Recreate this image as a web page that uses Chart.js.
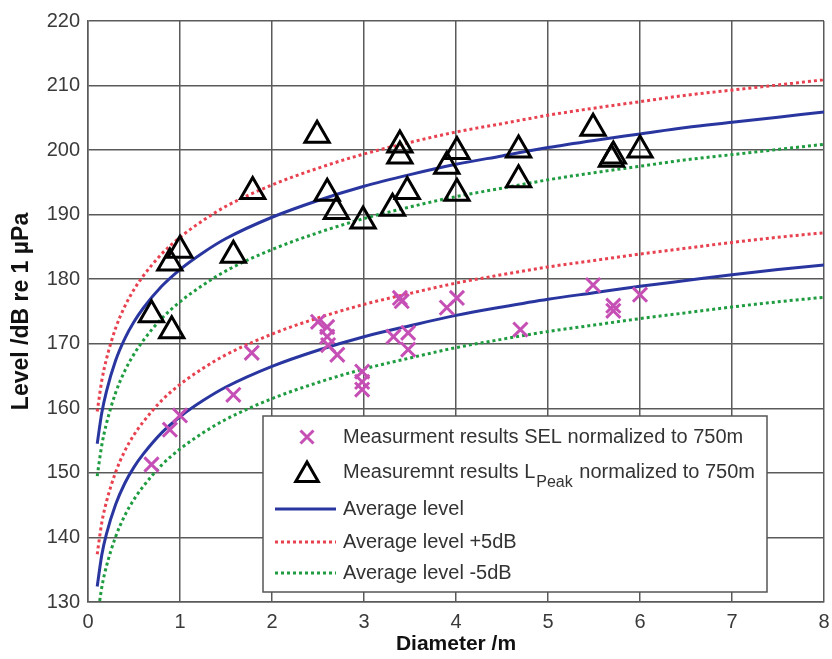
<!DOCTYPE html>
<html><head><meta charset="utf-8">
<script src="https://cdn.jsdelivr.net/npm/chart.js@4/dist/chart.umd.min.js"></script>
<style>html,body{margin:0;padding:0;background:#fff;}canvas{display:block;}</style>
</head><body>
<canvas id="c" width="832" height="659"></canvas>
<script>
// Diameter grid for the fitted curves (m)
const diameterGrid = [0.1,0.15,0.2,0.3,0.4,0.5,0.6,0.8,1,1.25,1.5,2,2.5,3,3.5,4,4.5,5,5.5,6,6.5,7,7.5,8];
// L_Peak average curves (dB re 1 µPa)
const peakAvg      = [154.5,159.3,162.6,167.4,170.8,173.4,175.5,178.9,181.5,184.1,186.3,189.6,192.2,194.4,196.2,197.8,199.1,200.4,201.5,202.5,203.5,204.3,205.1,205.9];
const peakAvgPlus5 = [159.5,164.3,167.6,172.4,175.8,178.4,180.5,183.9,186.5,189.1,191.3,194.6,197.2,199.4,201.2,202.8,204.1,205.4,206.5,207.5,208.5,209.3,210.1,210.9];
const peakAvgMinus5= [149.5,154.3,157.6,162.4,165.8,168.4,170.5,173.9,176.5,179.1,181.3,184.6,187.2,189.4,191.2,192.8,194.1,195.4,196.5,197.5,198.5,199.3,200.1,200.9];
// SEL average curves
const selAvg       = [132.4,137.3,140.5,145.1,148.4,150.9,152.9,156.2,158.7,161.2,163.3,166.5,169.0,171.1,172.8,174.4,175.7,176.9,177.9,178.9,179.8,180.7,181.5,182.2];
const selAvgPlus5  = [137.4,142.3,145.5,150.1,153.4,155.9,157.9,161.2,163.7,166.2,168.3,171.5,174.0,176.1,177.8,179.4,180.7,181.9,182.9,183.9,184.8,185.7,186.5,187.2];
const selAvgMinus5 = [127.4,132.3,135.5,140.1,143.4,145.9,147.9,151.2,153.7,156.2,158.3,161.5,164.0,166.1,167.8,169.4,170.7,171.9,172.9,173.9,174.8,175.7,176.5,177.2];
// Measurements: SEL normalized to 750 m
const selDiameter = [0.69,0.89,1.0,1.58,1.78,2.5,2.6,2.6,2.61,2.71,2.98,2.98,2.98,3.39,3.41,3.32,3.48,3.48,3.9,4.01,4.70,5.49,5.71,5.71,6.0];
const selLevel    = [151.3,156.7,158.9,162.1,168.6,173.4,172.6,171.1,169.8,168.3,165.7,164.1,162.9,177.1,176.6,171.1,171.7,169.1,175.6,177.1,172.2,179.1,175.9,175.1,177.6];
// Measurements: L_Peak normalized to 750 m
const peakDiameter = [0.69,0.91,0.89,1.0,1.58,1.79,2.49,2.60,2.70,2.99,3.31,3.47,3.39,3.39,3.90,4.01,4.01,4.68,4.68,5.49,5.69,5.71,6.0];
const peakLevel    = [174.5,172.0,182.5,184.5,183.7,193.6,202.3,193.3,190.5,189.0,191.0,193.6,200.8,199.1,197.5,199.8,193.3,200.0,195.4,203.4,198.6,199.1,200.0];
// Axis ticks
const xTicks = [0,1,2,3,4,5,6,7,8];
const yTicks = [130,140,150,160,170,180,190,200,210,220];

const legendLabels = {
  sel: 'Measurment results SEL normalized to 750m',
  peakA: 'Measuremnt results L', peakSub: 'Peak', peakB: ' normalized to 750m',
  avg: 'Average level', plus: 'Average level +5dB', minus: 'Average level -5dB'
};

const FONT = "'Liberation Sans', Arial, Helvetica, sans-serif";
const BLUE = '#2a36a0', RED = '#e8414f', GREEN = '#1f9c40', MAG = '#c64fb6';

function pts(xs, ys){ return xs.map((x,i)=>({x:x, y:ys[i]})); }

const lineDs = (label, ys, color, dashed) => ({
  label, data: pts(diameterGrid, ys), showLine: true, borderColor: color,
  borderWidth: 3, borderDash: dashed ? [3,3] : [], pointRadius: 0, pointHoverRadius: 0,
  cubicInterpolationMode: 'monotone', order: 2, fill: false
});

const legendPlugin = {
  id: 'customLegend',
  afterDraw(chart){
    const ctx = chart.ctx, ca = chart.chartArea;
    const x0 = ca.left + 175, y0 = ca.top + 395, w = 504, h = 176;
    ctx.save();
    ctx.fillStyle = '#fff';
    ctx.fillRect(x0, y0, w, h);
    ctx.strokeStyle = '#555'; ctx.lineWidth = 1.5;
    ctx.strokeRect(x0, y0, w, h);
    const mx = x0 + 44, tx = x0 + 80, l1 = x0 + 12, l2 = x0 + 73;
    const rows = [y0+21, y0+56, y0+93, y0+126, y0+157];
    const F = '20px ' + FONT;
    ctx.font = F; ctx.fillStyle = '#333'; ctx.textBaseline = 'middle'; ctx.textAlign = 'left';
    // row1 cross
    ctx.strokeStyle = MAG; ctx.lineWidth = 3;
    const c = 6.5;
    ctx.beginPath(); ctx.moveTo(mx-c, rows[0]-c); ctx.lineTo(mx+c, rows[0]+c);
    ctx.moveTo(mx+c, rows[0]-c); ctx.lineTo(mx-c, rows[0]+c); ctx.stroke();
    ctx.fillText(legendLabels.sel, tx, rows[0]);
    // row2 triangle
    ctx.strokeStyle = '#000'; ctx.lineWidth = 3;
    const r = 13, cy = rows[1] + 3;
    ctx.beginPath();
    for (let k=0;k<3;k++){ const a = -Math.PI/2 + k*2*Math.PI/3; const px = mx + Math.cos(a)*r, py = cy + Math.sin(a)*r; k?ctx.lineTo(px,py):ctx.moveTo(px,py); }
    ctx.closePath(); ctx.stroke();
    ctx.fillText(legendLabels.peakA, tx, rows[1]);
    let wA = ctx.measureText(legendLabels.peakA).width;
    ctx.font = '16px ' + FONT;
    ctx.fillText(legendLabels.peakSub, tx + wA + 1, rows[1] + 11);
    let wS = ctx.measureText(legendLabels.peakSub).width;
    ctx.font = F;
    ctx.fillText(legendLabels.peakB, tx + wA + wS + 2, rows[1]);
    // lines
    const lineRow = (y, color, dashed, text) => {
      ctx.strokeStyle = color; ctx.lineWidth = 3; ctx.setLineDash(dashed ? [3,3] : []);
      ctx.beginPath(); ctx.moveTo(l1, y); ctx.lineTo(l2, y); ctx.stroke(); ctx.setLineDash([]);
      ctx.fillText(text, tx, y);
    };
    lineRow(rows[2], BLUE, false, legendLabels.avg);
    lineRow(rows[3], RED, true, legendLabels.plus);
    lineRow(rows[4], GREEN, true, legendLabels.minus);
    ctx.restore();
  }
};

new Chart(document.getElementById('c'), {
  type: 'scatter',
  data: { datasets: [
    { label: 'SEL', data: pts(selDiameter, selLevel), pointStyle: 'crossRot', pointRadius: 10, pointHoverRadius: 10,
      borderColor: MAG, borderWidth: 3, backgroundColor: MAG, order: 0 },
    { label: 'LPeak', data: pts(peakDiameter, peakLevel), pointStyle: 'triangle', pointRadius: 14, pointHoverRadius: 14,
      borderColor: '#000', borderWidth: 3, backgroundColor: 'rgba(0,0,0,0)', order: 0 },
    lineDs('Peak avg', peakAvg, BLUE, false),
    lineDs('Peak +5', peakAvgPlus5, RED, true),
    lineDs('Peak -5', peakAvgMinus5, GREEN, true),
    lineDs('SEL avg', selAvg, BLUE, false),
    lineDs('SEL +5', selAvgPlus5, RED, true),
    lineDs('SEL -5', selAvgMinus5, GREEN, true)
  ]},
  options: {
    responsive: false, animation: false, devicePixelRatio: 1,
    layout: { autoPadding: false, padding: { left: 0, right: 8, top: 21, bottom: 0 } },
    plugins: { legend: { display: false }, tooltip: { enabled: false } },
    scales: {
      x: {
        type: 'linear', min: 0, max: 8,
        afterBuildTicks: s => { s.ticks = xTicks.map(v => ({value: v})); },
        afterFit: s => { s.height = 57; s.paddingRight = 0; s.paddingLeft = 0; },
        grid: { color: '#5a5a5a', lineWidth: 1.5, drawTicks: false },
        border: { color: '#5a5a5a', width: 1.5 },
        ticks: { color: '#3a3a3a', font: { family: FONT, size: 20 }, padding: 8 },
        title: { display: true, text: 'Diameter /m', color: '#111', font: { family: FONT, size: 21, weight: 'bold' }, padding: { top: 0, bottom: 2 } }
      },
      y: {
        type: 'linear', min: 130, max: 220,
        afterBuildTicks: s => { s.ticks = yTicks.map(v => ({value: v})); },
        afterFit: s => { s.width = 88; s.paddingTop = 0; s.paddingBottom = 0; },
        grid: { color: '#5a5a5a', lineWidth: 1.5, drawTicks: false },
        border: { color: '#5a5a5a', width: 1.5 },
        ticks: { color: '#3a3a3a', font: { family: FONT, size: 20 }, padding: 8 },
        title: { display: true, text: 'Level /dB re 1 µPa', color: '#111', font: { family: FONT, size: 23, weight: 'bold' }, padding: { top: 8, bottom: 0 } }
      }
    }
  },
  plugins: [legendPlugin]
});
</script>
</body></html>
